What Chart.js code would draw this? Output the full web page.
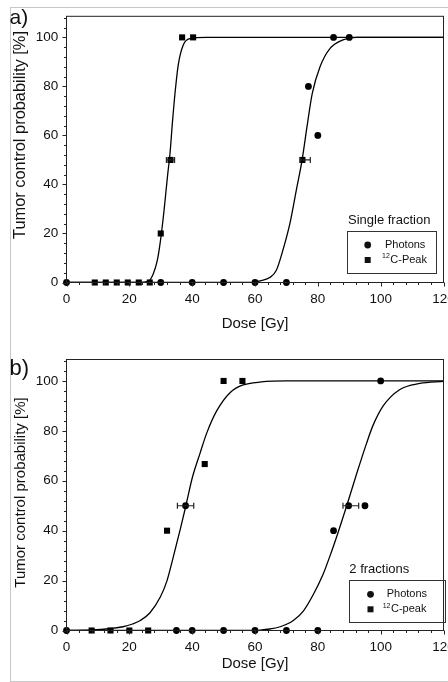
<!DOCTYPE html>
<html>
<head>
<meta charset="utf-8">
<script src="https://cdn.jsdelivr.net/npm/chart.js@4.4.1/dist/chart.umd.min.js"></script>
<style>
  html, body { margin: 0; padding: 0; background: #fff; }
  body { width: 448px; height: 682px; overflow: hidden; position: relative; }
  #frame { position: absolute; left: 10px; top: 7px; width: 470px; height: 673px; border: 1px solid #c8c8c8; }
  canvas { position: absolute; left: 0; }
  #chart-a { top: 0; }
  #chart-b { top: 341px; }
</style>
</head>
<body>
<div id="frame"></div>
<canvas id="chart-a" width="470" height="341"></canvas>
<canvas id="chart-b" width="470" height="341"></canvas>
<script>
// tick labels
const doseTicks = [0, 20, 40, 60, 80, 100, 120];
const probTicks = [0, 20, 40, 60, 80, 100];

// a) single fraction - measured points
const sfPhotonDose = [0, 30, 40, 50, 60, 70, 77, 80, 85, 90];
const sfPhotonTcp  = [0, 0, 0, 0, 0, 0, 80, 60, 100, 100];
const sfCarbonDose = [9, 12.5, 16, 19.5, 23, 26.5, 30, 36.8, 40.3];
const sfCarbonTcp  = [0, 0, 0, 0, 0, 0, 20, 100, 100];
// TCD50 with horizontal error
const sfTcdDose = [33.1, 75.1];
const sfTcdTcp  = [50, 50];
const sfTcdLow  = [31.8, 74.4];
const sfTcdHigh = [34.4, 77.6];
// fitted curves
const sfCarbonFitDose = [0, 22, 26, 27.6, 28.9, 29.9, 31.1, 32.2, 32.9, 33.7, 34.6, 35.6, 37.2, 39.3, 44.5, 120];
const sfCarbonFitTcp  = [0, 0, 0.5, 3.5, 9, 17, 30, 44, 52, 65, 78, 89, 97, 99.5, 100, 100];
const sfPhotonFitDose = [0, 58, 62, 64.7, 66.8, 68.5, 71.1, 73.2, 75, 76.6, 78.2, 80.7, 83.9, 88, 92.4, 120];
const sfPhotonFitTcp  = [0, 0, 0.8, 2, 5, 11.5, 24, 38, 50, 64, 77, 88, 95.5, 99, 100, 100];

// b) 2 fractions - measured points
const tfPhotonDose = [0, 35, 40, 50, 60, 70, 80, 85, 95, 100];
const tfPhotonTcp  = [0, 0, 0, 0, 0, 0, 0, 40, 50, 100];
const tfCarbonDose = [8, 14, 20, 26, 32, 44, 50, 56];
const tfCarbonTcp  = [0, 0, 0, 0, 40, 66.7, 100, 100];
const tfTcdDose = [37.9, 89.8];
const tfTcdTcp  = [50, 50];
const tfTcdLow  = [35.3, 88.0];
const tfTcdHigh = [40.5, 93.0];
const tfCarbonFitDose = [0, 8, 14, 18, 21, 23.5, 26.5, 29.9, 32, 34, 36.3, 38, 40, 42.5, 44.6, 47.8, 52.2, 56, 62, 70, 120];
const tfCarbonFitTcp  = [0, 0.2, 0.8, 1.5, 2.6, 4, 7, 13.5, 20, 29.5, 41, 50, 61, 71, 79, 88, 95.5, 98.3, 99.6, 100, 100];
const tfPhotonFitDose = [0, 60, 64, 68, 72.2, 75.5, 78.6, 81.5, 83.9, 86.5, 89.2, 92.4, 95.5, 97.5, 100.8, 106, 112.5, 120];
const tfPhotonFitTcp  = [0, 0, 0.5, 1.5, 4, 8, 14.5, 22, 30, 39.5, 50, 63, 75, 82, 90, 96.5, 99, 99.8];

const FONT = "'Liberation Sans', Arial, sans-serif";

function points(xs, ys) {
    return xs.map((x, i) => ({ x: x, y: ys[i] }));
}

// frame, minor ticks, error bars, labels and the boxed legend
const decorPlugin = {
    id: 'decor',
    afterDraw(chart, args, opts) {
        const ctx = chart.ctx;
        const area = chart.chartArea;
        const xs = chart.scales.x;
        const ys = chart.scales.y;
        ctx.save();
        ctx.strokeStyle = '#222';
        ctx.fillStyle = '#111';
        ctx.lineWidth = 1;

        // frame
        ctx.strokeRect(area.left, area.top, area.right - area.left, area.bottom - area.top);

        // ticks, major every 20, minor every 4
        ctx.beginPath();
        for (let v = 0; v <= 120; v += 4) {
            const px = Math.round(xs.getPixelForValue(v)) + 0.5;
            const len = v % 20 === 0 ? 4 : 2.5;
            ctx.moveTo(px, area.bottom);
            ctx.lineTo(px, area.bottom + len);
        }
        for (let v = 0; v <= 108; v += 4) {
            const py = Math.round(ys.getPixelForValue(v)) + 0.5;
            const len = v % 20 === 0 ? 4 : 2.5;
            ctx.moveTo(area.left, py);
            ctx.lineTo(area.left - len, py);
        }
        ctx.stroke();

        // TCD50 error bars
        const e = opts.errors;
        ctx.lineWidth = 1.2;
        ctx.beginPath();
        e.low.forEach((lo, i) => {
            const y = ys.getPixelForValue(e.tcp[i]);
            const x1 = xs.getPixelForValue(lo);
            const x2 = xs.getPixelForValue(e.high[i]);
            ctx.moveTo(x1, y); ctx.lineTo(x2, y);
            ctx.moveTo(x1, y - 3); ctx.lineTo(x1, y + 3);
            ctx.moveTo(x2, y - 3); ctx.lineTo(x2, y + 3);
        });
        ctx.stroke();

        // panel letter
        ctx.textAlign = 'left';
        ctx.textBaseline = 'alphabetic';
        ctx.font = opts.panel.size + 'px ' + FONT;
        ctx.fillText(opts.panel.text, opts.panel.x, opts.panel.y);

        // y title
        ctx.save();
        ctx.translate(opts.yTitle.x, opts.yTitle.y);
        ctx.rotate(-Math.PI / 2);
        ctx.textAlign = 'center';
        ctx.font = opts.yTitle.size + 'px ' + FONT;
        ctx.fillText('Tumor control probability [%]', 0, 0);
        ctx.restore();

        // legend
        const lg = opts.legend;
        ctx.textBaseline = 'middle';
        ctx.font = '13px ' + FONT;
        ctx.fillText(lg.title, lg.titleX, lg.titleY);
        ctx.strokeStyle = '#333';
        ctx.lineWidth = 1;
        ctx.strokeRect(lg.box[0], lg.box[1], lg.box[2], lg.box[3]);
        ctx.beginPath();
        ctx.arc(lg.markX, lg.rowY[0], 3.4, 0, Math.PI * 2);
        ctx.fill();
        ctx.fillRect(lg.markX - 3, lg.rowY[1] - 3, 6, 6);
        ctx.font = '11px ' + FONT;
        ctx.fillText('Photons', lg.textX, lg.rowY[0]);
        ctx.font = '7px ' + FONT;
        ctx.fillText('12', lg.supX, lg.rowY[1] - 3.5);
        const w = ctx.measureText('12').width;
        ctx.font = '11px ' + FONT;
        ctx.fillText(lg.ion, lg.supX + w + 0.5, lg.rowY[1]);
        ctx.restore();
    }
};

function makeChart(id, cfg) {
    const datasets = [
        { data: points(cfg.photonDose, cfg.photonTcp), pointStyle: 'circle', pointRadius: 3.4,
          backgroundColor: '#000', borderColor: '#000', borderWidth: 0, clip: false },
        { data: points(cfg.carbonDose, cfg.carbonTcp), pointStyle: 'rect', pointRadius: 4.3,
          backgroundColor: '#000', borderColor: '#000', borderWidth: 0, clip: false },
        { data: points(cfg.tcdDose, cfg.tcdTcp), pointStyle: cfg.tcdStyle, pointRadius: cfg.tcdStyle === 'rect' ? 4.3 : 3.4,
          backgroundColor: '#000', borderColor: '#000', borderWidth: 0, clip: false },
        { data: points(cfg.carbonFitDose, cfg.carbonFitTcp), showLine: true, pointRadius: 0,
          borderColor: '#000', borderWidth: 1.3, cubicInterpolationMode: 'monotone' },
        { data: points(cfg.photonFitDose, cfg.photonFitTcp), showLine: true, pointRadius: 0,
          borderColor: '#000', borderWidth: 1.3, cubicInterpolationMode: 'monotone' }
    ];

    return new Chart(document.getElementById(id), {
        type: 'scatter',
        data: { datasets: datasets },
        options: {
            responsive: false,
            animation: false,
            events: [],
            layout: { padding: cfg.padding },
            plugins: {
                legend: { display: false },
                tooltip: { enabled: false },
                decor: cfg.decor
            },
            scales: {
                x: {
                    type: 'linear',
                    min: 0,
                    max: 120,
                    afterFit: s => { s.height = cfg.xHeight; },
                    grid: { display: false, drawTicks: false },
                    border: { display: false },
                    ticks: {
                        stepSize: 20,
                        padding: 9,
                        autoSkip: false,
                        maxRotation: 0,
                        color: '#111',
                        font: { family: FONT, size: 13.5 },
                        callback: v => doseTicks.includes(v) ? v : ''
                    },
                    title: {
                        display: true,
                        text: 'Dose [Gy]',
                        color: '#111',
                        padding: 0,
                        font: { family: FONT, size: 15 }
                    }
                },
                y: {
                    type: 'linear',
                    min: 0,
                    max: 108.6,
                    afterFit: s => { s.width = 66.5; },
                    grid: { display: false, drawTicks: false },
                    border: { display: false },
                    ticks: {
                        stepSize: 20,
                        padding: 8.2,
                        autoSkip: false,
                        color: '#111',
                        font: { family: FONT, size: 13.5 },
                        callback: v => probTicks.includes(v) ? v : ''
                    }
                }
            }
        },
        plugins: [decorPlugin]
    });
}

makeChart('chart-a', {
    photonDose: sfPhotonDose, photonTcp: sfPhotonTcp,
    carbonDose: sfCarbonDose, carbonTcp: sfCarbonTcp,
    tcdDose: sfTcdDose, tcdTcp: sfTcdTcp, tcdStyle: 'rect',
    carbonFitDose: sfCarbonFitDose, carbonFitTcp: sfCarbonFitTcp,
    photonFitDose: sfPhotonFitDose, photonFitTcp: sfPhotonFitTcp,
    padding: { left: 0, right: 26.5, top: 11.5, bottom: 8.4 },
    xHeight: 50.1,
    decor: {
        errors: { low: sfTcdLow, high: sfTcdHigh, tcp: sfTcdTcp },
        panel: { text: 'a)', size: 21, x: 9.5, y: 24 },
        yTitle: { x: 25, y: 135, size: 16.4 },
        legend: {
            title: 'Single fraction', titleX: 348, titleY: 220,
            box: [347.5, 231.5, 89, 42], markX: 367.7, rowY: [245, 260],
            textX: 385, supX: 382, ion: 'C-Peak'
        }
    }
});

makeChart('chart-b', {
    photonDose: tfPhotonDose, photonTcp: tfPhotonTcp,
    carbonDose: tfCarbonDose, carbonTcp: tfCarbonTcp,
    tcdDose: tfTcdDose, tcdTcp: tfTcdTcp, tcdStyle: 'circle',
    carbonFitDose: tfCarbonFitDose, carbonFitTcp: tfCarbonFitTcp,
    photonFitDose: tfPhotonFitDose, photonFitTcp: tfPhotonFitTcp,
    padding: { left: 0, right: 26.5, top: 18.5, bottom: 9.4 },
    xHeight: 42.1,
    decor: {
        errors: { low: tfTcdLow, high: tfTcdHigh, tcp: tfTcdTcp },
        panel: { text: 'b)', size: 22, x: 9.5, y: 34.4 },
        yTitle: { x: 25, y: 151.5, size: 15 },
        legend: {
            title: '2 fractions', titleX: 349.3, titleY: 228,
            box: [349.5, 239.5, 96, 42], markX: 370.5, rowY: [253.3, 268.3],
            textX: 386.7, supX: 382.7, ion: 'C-peak'
        }
    }
});
</script>
</body>
</html>
